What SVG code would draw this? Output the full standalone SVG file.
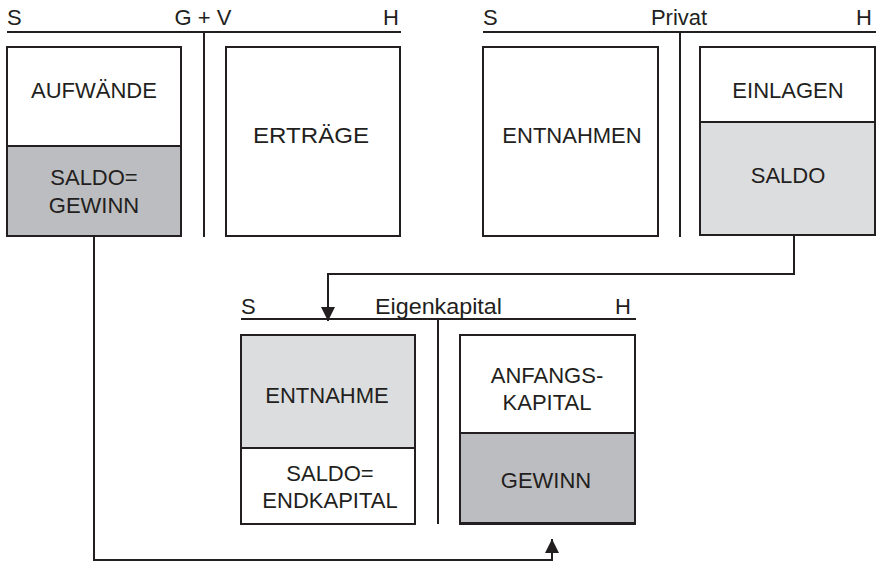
<svg xmlns="http://www.w3.org/2000/svg" width="876" height="562" viewBox="0 0 876 562">
<defs>
<style>
text{font-family:"Liberation Sans",Arial,sans-serif;font-size:22px;fill:#231f20}
.m{text-anchor:middle}
.ln{stroke:#231f20;stroke-width:2;fill:none}
.bx{stroke:#231f20;stroke-width:2}
.w{fill:#ffffff}
.d{fill:#bcbdc0}
.l{fill:#dcdddf}
</style>
<marker id="ah" markerWidth="14" markerHeight="14" viewBox="0 0 14 14" refX="14" refY="7" orient="auto" markerUnits="userSpaceOnUse">
<path d="M0,0 L14,7 L0,14 Z" fill="#231f20"/>
</marker>
</defs>
<rect width="876" height="562" fill="#ffffff"/>

<g id="gv-account">
<text x="7" y="25">S</text>
<text class="m" x="203" y="25">G + V</text>
<text x="383" y="25">H</text>
<line class="ln" x1="7" y1="32" x2="401" y2="32"/>
<line class="ln" x1="204" y1="32" x2="204" y2="237"/>
</g>
<g id="aufwaende">
<rect class="bx w" x="7" y="47" width="174" height="99"/>
<text class="m" x="94" y="98">AUFWÄNDE</text>
</g>
<g id="saldo-gewinn">
<rect class="bx d" x="7" y="146" width="174" height="90"/>
<text class="m" x="94" y="185">SALDO=</text>
<text class="m" x="94" y="213">GEWINN</text>
</g>
<g id="ertraege">
<rect class="bx w" x="226" y="47" width="174" height="189"/>
<text x="253" y="143" textLength="116" lengthAdjust="spacingAndGlyphs">ERTRÄGE</text>
</g>

<g id="privat-account">
<text x="483" y="25">S</text>
<text class="m" x="679" y="25">Privat</text>
<text x="856" y="25">H</text>
<line class="ln" x1="483" y1="32" x2="876" y2="32"/>
<line class="ln" x1="680" y1="32" x2="680" y2="237"/>
</g>
<g id="entnahmen">
<rect class="bx w" x="483" y="47" width="175" height="189"/>
<text class="m" x="572" y="143">ENTNAHMEN</text>
</g>
<g id="einlagen">
<rect class="bx w" x="700" y="47" width="175" height="75"/>
<text class="m" x="788" y="98">EINLAGEN</text>
</g>
<g id="saldo-privat">
<rect class="bx l" x="700" y="122" width="175" height="113"/>
<text class="m" x="788" y="183">SALDO</text>
</g>

<g id="eigenkapital-account">
<text x="241" y="314">S</text>
<text x="375" y="314" textLength="127" lengthAdjust="spacingAndGlyphs">Eigenkapital</text>
<text x="615" y="314">H</text>
<line class="ln" x1="241" y1="319" x2="636" y2="319"/>
<line class="ln" x1="438" y1="319" x2="438" y2="524"/>
</g>
<g id="entnahme">
<rect class="bx l" x="241" y="335" width="174" height="113"/>
<text class="m" x="327" y="403">ENTNAHME</text>
</g>
<g id="endkapital">
<rect class="bx w" x="241" y="448" width="174" height="76"/>
<text class="m" x="330" y="481">SALDO=</text>
<text class="m" x="330" y="508">ENDKAPITAL</text>
</g>
<g id="anfangskapital">
<rect class="bx w" x="460" y="335" width="175" height="98"/>
<text class="m" x="547" y="383">ANFANGS-</text>
<text class="m" x="547" y="410">KAPITAL</text>
</g>
<g id="gewinn">
<rect class="bx d" x="460" y="433" width="175" height="91"/>
<line x1="459" y1="523.5" x2="636" y2="523.5" stroke="#231f20" stroke-width="3"/>
<text class="m" x="546" y="488">GEWINN</text>
</g>

<g id="connectors">
<polyline class="ln" points="794,236 794,274 328,274 328,321" marker-end="url(#ah)"/>
<polyline class="ln" points="94,236 94,560 552,560 552,539" marker-end="url(#ah)"/>
</g>
</svg>
